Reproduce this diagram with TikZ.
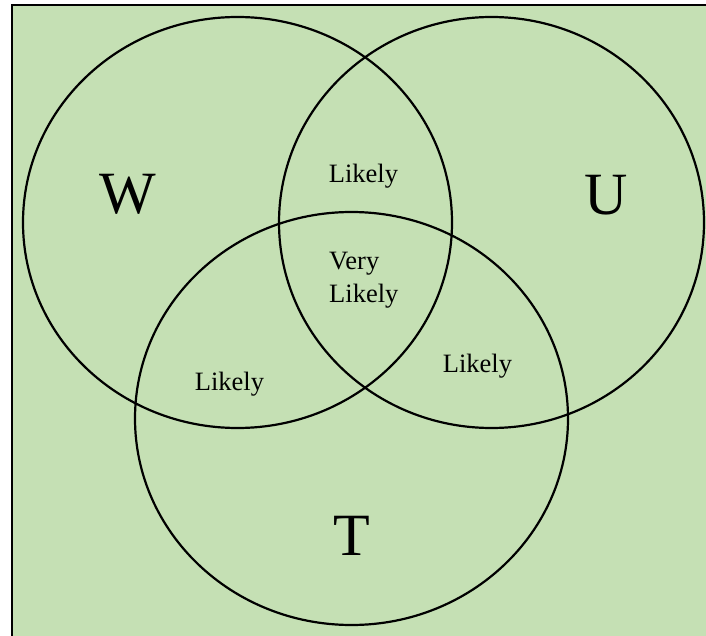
\documentclass[tikz,border=0pt]{standalone}
\usepackage{fontspec}
\setmainfont{Liberation Serif}
\definecolor{vennbg}{HTML}{C5E0B4}
\tikzset{
  set/.style={draw=black, line width=2.2pt},
  setname/.style={inner sep=0pt, font=\fontsize{60}{60}\selectfont},
  chance/.style={inner sep=0pt, anchor=base, font=\fontsize{26.5}{33}\selectfont},
}

\begin{document}
\begin{tikzpicture}[x=1pt, y=-1pt]
    \path[use as bounding box, clip] (0,0) rectangle (706,636);
    \draw[fill=vennbg, line width=2pt] (12,5) rectangle (730,660);
    % the three sets
    \draw[set] (237.5,222.5) ellipse [x radius=214.5pt, y radius=205.5pt];
    \draw[set] (491.5,222.5) ellipse [x radius=212.5pt, y radius=205.5pt];
    \draw[set] (351.5,418.5) ellipse [x radius=216.5pt, y radius=206.5pt];
    \node[setname] (W) at (127.5,194.5) {W};
    \node[setname] (U) at (606,195) {U};
    \node[setname] (T) at (351.5,536) {T};
    % overlaps
    \node[chance] (WU)  at (363.5,183) {Likely};
    \node[chance] (WT)  at (229.5,390) {Likely};
    \node[chance] (UT)  at (477.5,372.7) {Likely};
    \node[chance, anchor=base west, align=left] (WUT) at (329,302) {Very\\Likely};
\end{tikzpicture}
\end{document}
